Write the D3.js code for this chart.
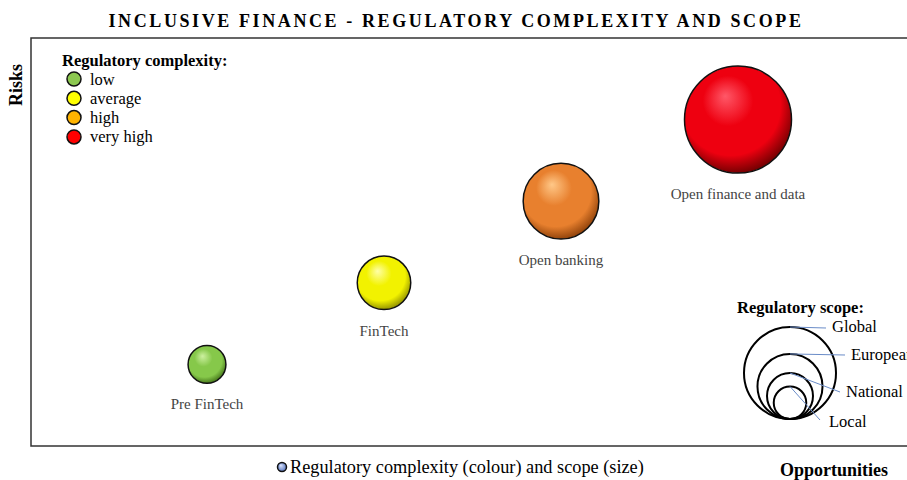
<!DOCTYPE html>
<html><head><meta charset="utf-8">
<script src="https://cdn.jsdelivr.net/npm/d3@7"></script>
<style>body{margin:0;background:#fff}svg{display:block}text{font-family:"Liberation Serif","Times New Roman",serif}</style>
</head><body>
<script>
// ---- data ----
const stages = ["Pre FinTech", "FinTech", "Open banking", "Open finance and data"];
const opportunities = [1, 2, 3, 4];
const risks = [1, 2, 3, 4];
const scopeValue = [1, 2, 4, 8];            // Local, National, European, Global
const complexity = ["low", "average", "high", "very high"];
const complexityColors = ["#8cc850", "#ffff00", "#ffb400", "#ff0000"];
const bubbleBase = ["#86c84a", "#f2f200", "#e8802e", "#ee0010"];
const bubbleLight = ["#cdf0a0", "#ffffa8", "#ffc888", "#ff5868"];
const bubbleDark = ["#3f6e16", "#8a8a00", "#8a3e08", "#6a0000"];
const scopeLabels = ["Global", "European", "National", "Local"];
const scopeLegendValues = [8, 4, 2, 1];

const W = 907, H = 480;
const svg = d3.select("body").append("svg").attr("width", W).attr("height", H);
const defs = svg.append("defs");

const x = d3.scaleLinear().domain([0, 5]).range([30, 915]);
const y = d3.scaleLinear().domain([0, 5]).range([446, 38]);
const r = d3.scaleSqrt().domain([0, 8]).range([0, 53.5]);
const rLeg = d3.scaleSqrt().domain([0, 8]).range([0, 46]);

// frame
svg.append("rect").attr("x", x(0) + 1).attr("y", y(5)).attr("width", 960).attr("height", y(0) - y(5))
  .attr("fill", "none").attr("stroke", "#333").attr("stroke-width", 1.5);

// title
svg.append("text").attr("x", 456).attr("y", 27).attr("text-anchor", "middle")
  .attr("font-size", 18).attr("font-weight", "bold").attr("letter-spacing", 2.6)
  .text("INCLUSIVE FINANCE - REGULATORY COMPLEXITY AND SCOPE");

// axis titles
svg.append("text").attr("transform", "translate(22,85) rotate(-90)").attr("text-anchor", "middle")
  .attr("font-size", 18).attr("font-weight", "bold").text("Risks");
svg.append("text").attr("x", 834).attr("y", 476).attr("text-anchor", "middle")
  .attr("font-size", 18).attr("font-weight", "bold").text("Opportunities");

// gradients
stages.forEach((s, i) => {
  const g = defs.append("radialGradient").attr("id", "g" + i)
    .attr("cx", "45%").attr("cy", "40%").attr("r", "62%").attr("fx", "38%").attr("fy", "28%");
  g.append("stop").attr("offset", "0%").attr("stop-color", bubbleLight[i]);
  g.append("stop").attr("offset", "38%").attr("stop-color", bubbleBase[i]);
  g.append("stop").attr("offset", "75%").attr("stop-color", bubbleBase[i]);
  g.append("stop").attr("offset", "100%").attr("stop-color", bubbleDark[i]);
});
const gl = defs.append("radialGradient").attr("id", "gleg").attr("fx", "35%").attr("fy", "30%");
gl.append("stop").attr("offset", "0%").attr("stop-color", "#e0e8ff");
gl.append("stop").attr("offset", "100%").attr("stop-color", "#5a78c0");

// bubbles
const data = stages.map((s, i) => ({ s, x: opportunities[i], y: risks[i], v: scopeValue[i], i }));
const gB = svg.append("g");
gB.selectAll("circle").data(data).join("circle")
  .attr("cx", d => x(d.x)).attr("cy", d => y(d.y)).attr("r", d => r(d.v))
  .attr("fill", d => `url(#g${d.i})`).attr("stroke", "#111").attr("stroke-width", 1.5);
gB.selectAll("text").data(data).join("text")
  .attr("x", d => x(d.x)).attr("y", d => y(d.y) + r(d.v) + 26).attr("text-anchor", "middle")
  .attr("font-size", 15).attr("fill", "#444").text(d => d.s);

// complexity legend
const lg = svg.append("g");
lg.append("text").attr("x", 62).attr("y", 66).attr("font-size", 16.5).attr("font-weight", "bold").text("Regulatory complexity:");
complexity.forEach((c, i) => {
  lg.append("circle").attr("cx", 74).attr("cy", 79 + i * 19.3).attr("r", 7)
    .attr("fill", complexityColors[i]).attr("stroke", "#111").attr("stroke-width", 1.5);
  lg.append("text").attr("x", 90).attr("y", 84.5 + i * 19.3).attr("font-size", 16.5).text(c);
});

// scope legend
const sg = svg.append("g");
sg.append("text").attr("x", 737).attr("y", 313).attr("font-size", 16.5).attr("font-weight", "bold").text("Regulatory scope:");
const baseY = 419, cxL = 790;
const labelPos = [[832, 332, 826, 328], [851, 360, 845, 355], [846, 397, 840, 392], [829, 427, 820, 420]];
scopeLegendValues.forEach((v, i) => {
  const rr = rLeg(v);
  sg.append("circle").attr("cx", cxL).attr("cy", baseY - rr).attr("r", rr)
    .attr("fill", "none").attr("stroke", "#000").attr("stroke-width", 2);
});
scopeLegendValues.forEach((v, i) => {
  const rr = rLeg(v);
  const p = labelPos[i];
  sg.append("line").attr("x1", cxL).attr("y1", baseY - 2 * rr).attr("x2", p[2]).attr("y2", p[3])
    .attr("stroke", "#6a8cc8").attr("stroke-width", 1);
  sg.append("text").attr("x", p[0]).attr("y", p[1]).attr("font-size", 16.5).text(scopeLabels[i]);
});

// bottom legend
svg.append("circle").attr("cx", 282).attr("cy", 467).attr("r", 4.5)
  .attr("fill", "url(#gleg)").attr("stroke", "#111").attr("stroke-width", 1.5);
svg.append("text").attr("x", 290).attr("y", 473).attr("font-size", 18.3).text("Regulatory complexity (colour) and scope (size)");
</script>
</body></html>
